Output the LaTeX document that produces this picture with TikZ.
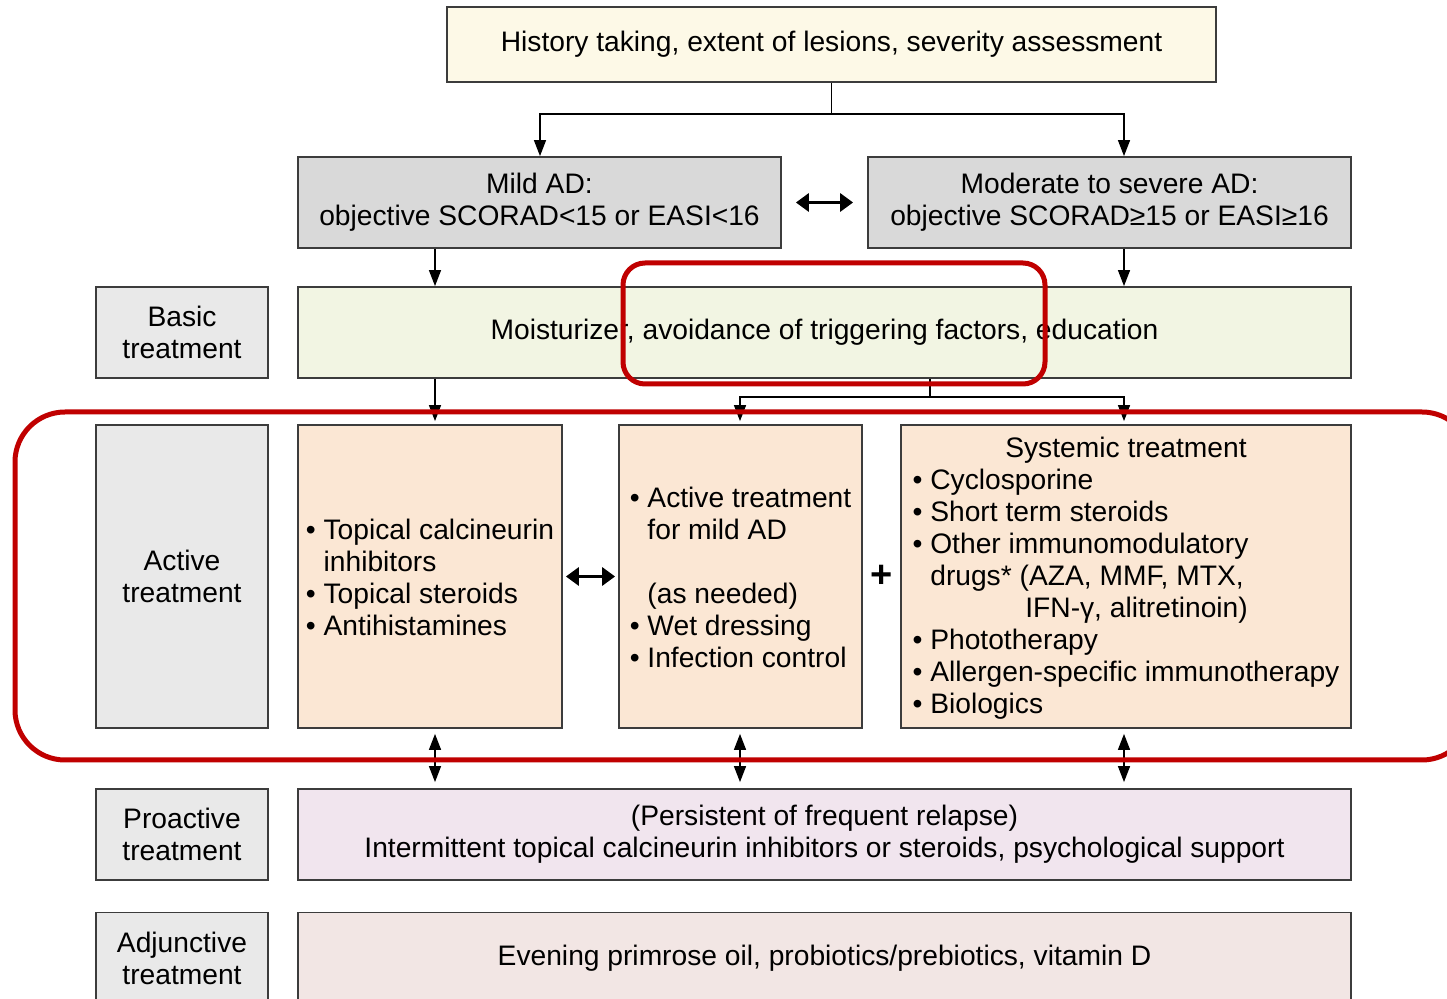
\documentclass[tikz,border=0pt]{standalone}
\usepackage{fontspec}
\setmainfont{Liberation Sans}
\usetikzlibrary{arrows.meta,calc}
\definecolor{boxline}{HTML}{3C3C3C}
\definecolor{creamfill}{HTML}{FDF9E7}
\definecolor{grayfill}{HTML}{D9D9D9}
\definecolor{labfill}{HTML}{E9E9E9}
\definecolor{greenfill}{HTML}{F2F5E3}
\definecolor{peachfill}{HTML}{FBE7D4}
\definecolor{pinkfill}{HTML}{F1E5EE}
\definecolor{rosefill}{HTML}{F2E6E4}
\definecolor{hlred}{HTML}{C00000}
\begin{document}
\begin{tikzpicture}[x=0.5pt,y=-0.5pt,
  font=\fontsize{14.1}{16}\selectfont,
  box/.style={draw=boxline, line width=0.9pt, inner sep=0pt, align=center},
  lab/.style={box, fill=labfill, minimum width=86pt},
  arr/.style={line width=0.7pt, -{Triangle[length=8pt,width=6pt]}},
  darr/.style={line width=0.7pt, {Triangle[length=8pt,width=6pt]}-{Triangle[length=8pt,width=6pt]}},
  bigdarr/.style={line width=1.8pt, {Triangle[length=6.5pt,width=9pt]}-{Triangle[length=6.5pt,width=9pt]}},
  hl/.style={draw=hlred, line width=2.5pt}]
\clip (0,0) rectangle (1447,999);
\fill[white] (0,0) rectangle (1447,999);
% columns
\coordinate (cL) at (540,0);
\coordinate (c1) at (435,0);
\coordinate (c2) at (740,0);
\coordinate (c3) at (1124,0);
% top
\node[box, fill=creamfill, minimum width=384.5pt, minimum height=37.5pt] (top) at (831.5,44.5)
  {History taking, extent of lesions, severity assessment};
\node[box, fill=grayfill, minimum width=241.5pt, minimum height=45.5pt] (mild) at (539.5,202.5)
  {Mild AD:\\objective SCORAD<15 or EASI<16};
\node[box, fill=grayfill, minimum width=241.5pt, minimum height=45.5pt] (mod) at (1109.5,202.5)
  {Moderate to severe AD:\\objective SCORAD≥15 or EASI≥16};
% basic
\node[lab, minimum height=45.5pt] (basicL) at (182,332.5) {Basic\\treatment};
\node[box, fill=greenfill, minimum width=526.5pt, minimum height=45.5pt] (moist) at (824.5,332.5)
  {Moisturizer, avoidance of triggering factors, education};
% active
\node[lab, minimum height=151.5pt] (actL) at (182,576.5) {Active\\treatment};
\node[box, fill=peachfill, minimum width=132pt, minimum height=151.5pt] (b1) at (430,576.5)
  {\raisebox{-2.5pt}[\height][\depth]{\begin{tabular}{@{}l@{}}• Topical calcineurin\\\phantom{• }inhibitors\\• Topical steroids\\• Antihistamines\end{tabular}}};
\node[box, fill=peachfill, minimum width=121.5pt, minimum height=151.5pt] (b2) at (740.5,576.5)
  {\raisebox{-2.5pt}[\height][\depth]{\begin{tabular}{@{}l@{}}• Active treatment\\\phantom{• }for mild AD\\ \\\phantom{• }(as needed)\\• Wet dressing\\• Infection control\end{tabular}}};
\node[box, fill=peachfill, minimum width=225pt, minimum height=151.5pt] (b3) at (1126,576.5)
  {\raisebox{-1.5pt}[\height][\depth]{\begin{tabular}{@{}l@{}}\multicolumn{1}{@{}c@{}}{Systemic treatment}\\
   • Cyclosporine\\
   • Short term steroids\\
   • Other immunomodulatory\\
   \phantom{• }drugs* (AZA, MMF, MTX,\\
   \phantom{• }\hspace{47.5pt}IFN-γ, alitretinoin)\\
   • Phototherapy\\
   • Allergen-specific immunotherapy\\
   • Biologics\end{tabular}}};
\node[font=\fontsize{19}{19}\selectfont\bfseries] (plus) at ($(b2.east)!0.5!(b3.west)$) {+};
% proactive / adjunctive
\node[lab, minimum height=45.5pt] (proL) at (182,834.5) {Proactive\\treatment};
\node[box, fill=pinkfill, minimum width=526.5pt, minimum height=45.5pt] (pro) at (824.5,834.5)
  {(Persistent of frequent relapse)\\Intermittent topical calcineurin inhibitors or steroids, psychological support};
\node[lab, minimum height=45.5pt] (adjL) at (182,958) {Adjunctive\\treatment};
\node[box, fill=rosefill, minimum width=526.5pt, minimum height=45.5pt] (adj) at (824.5,958)
  {Evening primrose oil, probiotics/prebiotics, vitamin D};
% connectors
\draw[line width=0.7pt] (top.south) -- ++(0,31) coordinate (tj);
\draw[arr] (tj) -| (mild.north -| cL);
\draw[arr] (tj) -| (mod.north -| c3);
\draw[bigdarr, shorten <=7pt, shorten >=7pt] (mild.east) -- (mod.west);
\draw[arr] (mild.south -| c1) -- (moist.north -| c1);
\draw[arr] (mod.south -| c3) -- (moist.north -| c3);
\draw[arr, shorten >=1.5pt] (moist.south -| c1) -- (b1.north -| c1);
\coordinate (mx) at (930,0);
\draw[line width=0.7pt] (moist.south -| mx) -- ++(0,18) coordinate (mj);
\draw[arr, shorten >=1.5pt] (mj) -| (b2.north -| c2);
\draw[arr, shorten >=1.5pt] (mj) -| (b3.north -| c3);
\draw[bigdarr, shorten <=1.5pt, shorten >=1.5pt] (b1.east) -- (b2.west);
\draw[darr, shorten <=2.5pt, shorten >=3pt] (b1.south -| c1) -- (pro.north -| c1);
\draw[darr, shorten <=2.5pt, shorten >=3pt] (b2.south -| c2) -- (pro.north -| c2);
\draw[darr, shorten <=2.5pt, shorten >=3pt] (b3.south -| c3) -- (pro.north -| c3);
% highlights
\draw[hl, rounded corners=11pt] (623,263) rectangle (1045,384);
\draw[hl, rounded corners=25pt] (15,412) rectangle (1472,760);
\end{tikzpicture}
\end{document}
